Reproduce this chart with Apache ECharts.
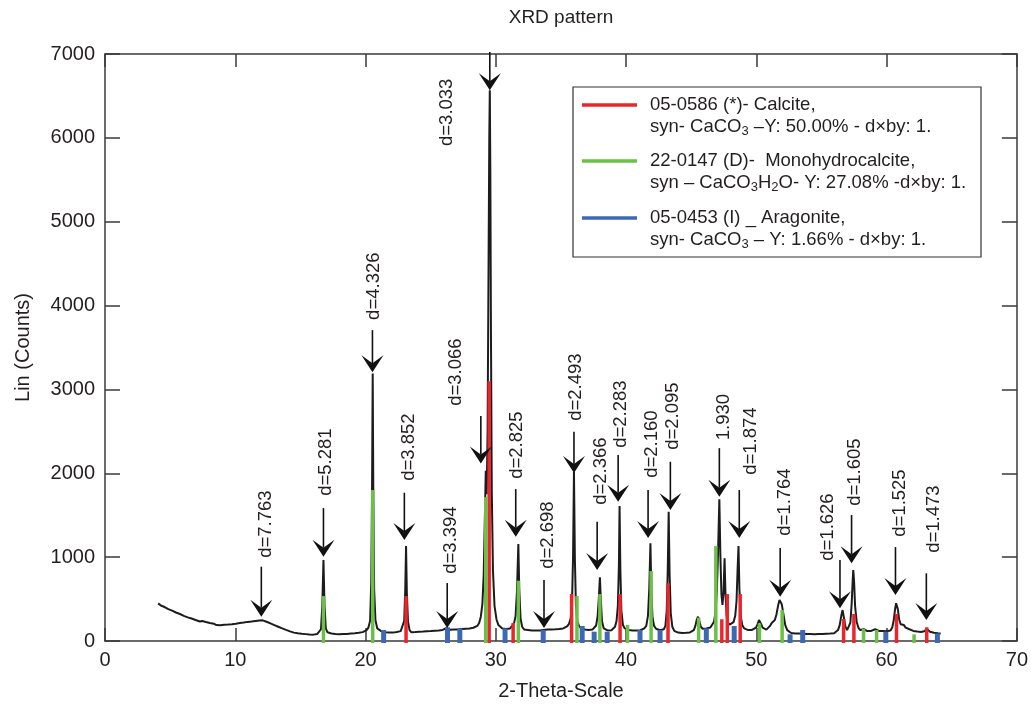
<!DOCTYPE html>
<html><head><meta charset="utf-8">
<script src="https://cdn.jsdelivr.net/npm/echarts@6/dist/echarts.min.js"></script>
<style>html,body{margin:0;padding:0;background:#fff}#c{width:1031px;height:706px}</style>
</head><body><div id="c"></div>
<script>
// ---------- data ----------
const profile = [[4.08,449],[4.2,441],[4.32,420],[4.45,428],[4.58,405],[4.72,398],[4.86,380],[5.0,383],[5.15,362],[5.3,352],[5.45,340],[5.6,331],[5.75,322],[5.9,318],[6.05,300],[6.2,296],[6.35,282],[6.5,285],[6.65,268],[6.8,262],[6.95,250],[7.1,252],[7.28,232],[7.45,238],[7.6,222],[7.75,226],[7.9,210],[8.05,215],[8.2,198],[8.35,206],[8.55,190],[8.7,200],[8.85,188],[9.0,201],[9.15,194],[9.3,207],[9.45,196],[9.6,210],[9.75,200],[9.9,214],[10.05,206],[10.2,222],[10.35,214],[10.5,230],[10.65,220],[10.8,236],[10.95,228],[11.1,242],[11.25,232],[11.4,248],[11.55,238],[11.7,252],[11.85,244],[12.0,256],[12.1,246],[12.25,238],[12.4,230],[12.55,218],[12.7,210],[12.85,196],[13.0,190],[13.15,176],[13.3,170],[13.45,156],[13.6,150],[13.75,138],[13.9,132],[14.05,118],[14.2,115],[14.35,102],[14.5,100],[14.65,88],[14.8,92],[14.95,80],[15.1,86],[15.25,74],[15.4,82],[15.55,70],[15.7,78],[15.85,68],[16.0,76],[16.15,72],[16.3,84],[16.45,95],[16.58,140],[16.68,420],[16.77,965],[16.85,430],[16.95,150],[17.08,104],[17.23,96],[17.38,90],[17.53,98],[17.68,84],[17.83,92],[17.98,80],[18.13,90],[18.28,82],[18.43,94],[18.58,84],[18.73,95],[18.88,88],[19.03,99],[19.18,92],[19.33,104],[19.48,98],[19.63,110],[19.78,106],[19.93,120],[20.08,130],[20.22,160],[20.35,240],[20.44,700],[20.5,1800],[20.55,3190],[20.6,1700],[20.66,620],[20.76,250],[20.9,150],[21.05,128],[21.2,118],[21.35,108],[21.5,104],[21.65,96],[21.8,102],[21.95,92],[22.1,100],[22.25,98],[22.4,108],[22.55,104],[22.7,118],[22.85,140],[22.97,240],[23.05,620],[23.11,1132],[23.17,580],[23.26,230],[23.38,130],[23.52,104],[23.67,96],[23.82,106],[23.97,100],[24.12,110],[24.27,102],[24.42,112],[24.57,104],[24.72,116],[24.87,108],[25.02,118],[25.17,110],[25.32,122],[25.47,114],[25.62,126],[25.77,120],[25.92,132],[26.07,140],[26.2,152],[26.33,146],[26.48,134],[26.63,128],[26.78,136],[26.93,126],[27.08,138],[27.23,132],[27.38,142],[27.53,134],[27.68,146],[27.83,140],[27.98,150],[28.13,146],[28.28,158],[28.43,165],[28.58,180],[28.72,215],[28.85,290],[28.97,440],[29.07,780],[29.15,1400],[29.23,2030],[29.3,1750],[29.37,2500],[29.44,4400],[29.5,6000],[29.54,6567],[29.58,5600],[29.63,3600],[29.69,1800],[29.78,850],[29.9,420],[30.05,260],[30.2,190],[30.35,168],[30.5,150],[30.65,158],[30.8,144],[30.95,154],[31.1,150],[31.25,168],[31.4,210],[31.52,300],[31.62,580],[31.73,1156],[31.8,620],[31.9,270],[32.02,170],[32.17,138],[32.32,128],[32.47,132],[32.62,118],[32.77,126],[32.92,114],[33.07,124],[33.22,116],[33.37,126],[33.52,118],[33.67,132],[33.82,124],[33.97,136],[34.12,126],[34.27,138],[34.42,128],[34.57,140],[34.72,132],[34.87,144],[35.02,138],[35.17,150],[35.32,156],[35.47,175],[35.62,205],[35.75,270],[35.85,460],[35.93,1000],[36.0,2018],[36.07,980],[36.15,420],[36.25,240],[36.38,180],[36.52,156],[36.67,148],[36.82,138],[36.97,144],[37.12,132],[37.27,140],[37.42,136],[37.57,150],[37.7,185],[37.82,300],[37.92,540],[37.99,759],[38.06,500],[38.15,240],[38.28,152],[38.43,132],[38.58,126],[38.73,134],[38.88,128],[39.03,142],[39.15,170],[39.27,240],[39.37,420],[39.45,900],[39.5,1609],[39.56,860],[39.64,360],[39.76,190],[39.9,150],[40.05,140],[40.2,132],[40.35,138],[40.5,126],[40.65,134],[40.8,124],[40.95,134],[41.1,128],[41.25,140],[41.4,150],[41.55,180],[41.68,300],[41.78,620],[41.87,1165],[41.94,600],[42.03,280],[42.15,180],[42.3,146],[42.45,136],[42.6,128],[42.75,134],[42.9,140],[43.02,180],[43.12,360],[43.2,850],[43.27,1541],[43.34,800],[43.43,330],[43.55,170],[43.7,120],[43.85,108],[44.0,100],[44.15,104],[44.3,96],[44.45,102],[44.6,98],[44.75,106],[44.9,102],[45.05,112],[45.2,130],[45.32,180],[45.42,250],[45.52,290],[45.62,240],[45.74,170],[45.88,146],[46.02,140],[46.17,150],[46.32,146],[46.47,160],[46.62,180],[46.75,230],[46.87,340],[46.97,600],[47.06,1050],[47.16,1689],[47.24,1020],[47.32,560],[47.4,430],[47.48,580],[47.56,986],[47.63,560],[47.72,300],[47.82,220],[47.95,195],[48.1,200],[48.25,225],[48.38,300],[48.48,480],[48.56,850],[48.63,1132],[48.7,620],[48.8,300],[48.92,190],[49.07,150],[49.22,136],[49.37,130],[49.52,138],[49.67,132],[49.82,144],[49.97,160],[50.1,200],[50.2,250],[50.26,259],[50.35,210],[50.48,160],[50.62,140],[50.77,136],[50.92,150],[51.05,180],[51.18,215],[51.3,225],[51.42,250],[51.55,320],[51.68,430],[51.78,490],[51.85,497],[51.95,440],[52.08,320],[52.22,190],[52.37,130],[52.52,108],[52.67,96],[52.82,100],[52.97,90],[53.12,96],[53.27,88],[53.42,94],[53.57,86],[53.72,92],[53.87,84],[54.02,90],[54.17,82],[54.32,88],[54.47,80],[54.62,88],[54.77,82],[54.92,90],[55.07,84],[55.22,92],[55.37,86],[55.52,94],[55.67,88],[55.82,96],[55.97,92],[56.12,104],[56.27,130],[56.4,190],[56.52,300],[56.62,369],[56.72,280],[56.84,170],[56.97,130],[57.1,140],[57.22,220],[57.32,450],[57.39,700],[57.44,846],[57.5,720],[57.58,420],[57.7,230],[57.83,160],[57.97,130],[58.12,126],[58.25,140],[58.38,130],[58.52,118],[58.67,112],[58.82,120],[58.97,128],[59.12,140],[59.25,136],[59.4,120],[59.55,112],[59.7,118],[59.85,110],[60.0,116],[60.15,112],[60.3,124],[60.43,160],[60.55,250],[60.65,380],[60.73,450],[60.78,457],[60.86,380],[60.96,260],[61.08,200],[61.2,180],[61.33,190],[61.46,160],[61.6,150],[61.75,140],[61.9,132],[62.05,120],[62.2,124],[62.35,112],[62.5,118],[62.65,108],[62.8,114],[62.95,120],[63.05,150],[63.12,165],[63.2,130],[63.33,110],[63.48,104],[63.63,98],[63.78,102],[63.93,92],[64.08,96],[64.15,90]];

const calciteSticks = [[23.11,536],[29.49,3099],[31.33,215],[35.82,560],[39.54,560],[43.22,688],[47.35,259],[47.77,560],[48.76,560],[56.7,262],[57.49,322],[60.76,322],[63.08,163]];
const monohydroSticks = [[16.77,536],[20.55,1800],[29.23,1716],[31.73,719],[36.23,536],[37.99,560],[40.11,191],[41.92,834],[45.57,278],[46.89,1132],[50.24,211],[51.98,369],[58.23,143],[59.23,131],[62.11,79]];
const aragoniteSticks = [[21.39,131],[26.29,163],[27.24,151],[30.71,151],[33.64,131],[36.63,179],[37.55,111],[38.55,111],[41.07,131],[42.61,131],[46.16,151],[48.3,179],[52.59,80],[53.56,131],[59.94,111],[63.9,91]];

// arrow annotations in data units: [2theta, tip counts, top counts, label 2theta, label counts]
const arrowMarks = [[12.0,290,886,12.33,1394],[16.77,1005,1585,16.93,2133],[20.53,3206,3707,20.68,4231],[22.98,1204,1768,23.36,2312],[26.27,155,691,26.58,1204],[28.85,2118,2682,26.96,3206],[29.54,6567,7024,26.27,6305],[31.53,1243,1812,31.63,2336],[33.7,155,727,34.0,1263],[36.0,2002,2495,36.15,3027],[37.78,846,1422,38.04,2026],[39.39,1660,2217,39.6,2706],[41.69,1228,1800,41.97,2348],[43.4,1561,2137,43.58,2682],[47.16,1720,2300,47.48,2670],[48.69,1228,1800,49.6,2384],[51.83,528,1108,52.16,1657],[56.42,390,965,55.52,1359],[57.31,926,1502,57.57,2014],[60.68,548,1120,61.02,1645],[63.05,250,807,63.64,1454]];
const arrowLabels = ['d=7.763','d=5.281','d=4.326','d=3.852','d=3.394','d=3.066','d=3.033','d=2.825','d=2.698','d=2.493','d=2.366','d=2.283','d=2.160','d=2.095','1.930','d=1.874','d=1.764','d=1.626','d=1.605','d=1.525','d=1.473'];

const legendTitles = ['05-0586 (*)- Calcite,', '22-0147 (D)-  Monohydrocalcite,', '05-0453 (I) _ Aragonite,'];
const legendDetails = ['syn- CaCO{s|3} \u2013Y: 50.00% - d\u00d7by: 1.', 'syn \u2013 CaCO{s|3}H{s|2}O- Y: 27.08% -d\u00d7by: 1.', 'syn- CaCO{s|3} \u2013 Y: 1.66% - d\u00d7by: 1.'];
const xTickLabels = ['0','10','20','30','40','50','60','70'];
const yTickLabels = ['0','1000','2000','3000','4000','5000','6000','7000'];

// ---------- chart ----------
const FONT = '"Liberation Sans", Arial, Helvetica, sans-serif';
const TXT = '#231f20';
const RED = '#e8262b', GREEN = '#6cbf47', BLUE = '#3d68b4';

function stickRenderer(color, w) {
  return function (params, api) {
    const p0 = api.coord([api.value(0), 0]);
    const p1 = api.coord([api.value(0), api.value(1)]);
    return { type: 'rect', shape: { x: p0[0] - w / 2, y: p1[1], width: w, height: p0[1] - p1[1] + 2 }, style: { fill: color } };
  };
}
function arrowRenderer(params, api) {
  const x = api.value(0);
  const pTip = api.coord([x, api.value(1)]);
  const pTop = api.coord([x, api.value(2)]);
  const pL = api.coord([api.value(3), api.value(4)]);
  const hw = 11, hl = 17, notch = 8;
  return { type: 'group', children: [
    { type: 'line', shape: { x1: pTop[0], y1: pTop[1], x2: pTip[0], y2: pTip[1] - hl + notch }, style: { stroke: '#111', lineWidth: 1.6 } },
    { type: 'polygon', shape: { points: [[pTip[0], pTip[1]], [pTip[0] - hw, pTip[1] - hl], [pTip[0], pTip[1] - hl + notch], [pTip[0] + hw, pTip[1] - hl]] }, style: { fill: '#111' } },
    { type: 'text', x: pL[0], y: pL[1], rotation: Math.PI / 2, style: { text: arrowLabels[params.dataIndex], align: 'center', verticalAlign: 'middle', fontSize: 18.5, fontFamily: FONT, fill: TXT } }
  ] };
}

const axisLineStyle = { color: '#3a3a3a', width: 1.5 };
const mkX = (pos, showLabel) => ({
  type: 'value', min: 0, max: 70, interval: 10, position: pos,
  axisLine: { show: true, onZero: false, lineStyle: axisLineStyle },
  axisTick: { show: true, inside: true, length: 13, lineStyle: axisLineStyle },
  axisLabel: { show: showLabel, fontSize: 20, color: TXT, fontFamily: FONT, margin: 9, formatter: (v) => xTickLabels[Math.round(v / 10)] },
  splitLine: { show: false }
});
const mkY = (pos, showLabel) => ({
  type: 'value', min: 0, max: 7000, interval: 1000, position: pos,
  axisLine: { show: true, onZero: false, lineStyle: axisLineStyle },
  axisTick: { show: true, inside: true, length: 15, lineStyle: axisLineStyle },
  axisLabel: { show: showLabel, fontSize: 20, color: TXT, fontFamily: FONT, margin: 10, formatter: (v) => yTickLabels[Math.round(v / 1000)] },
  splitLine: { show: false }
});

const xBottom = Object.assign(mkX('bottom', true), { name: '2-Theta-Scale', nameLocation: 'middle', nameGap: 40, nameTextStyle: { fontSize: 20, color: TXT, fontFamily: FONT } });
const yLeft = Object.assign(mkY('left', true), { name: 'Lin (Counts)', nameLocation: 'middle', nameGap: 72, nameTextStyle: { fontSize: 20, color: TXT, fontFamily: FONT } });

const legendColors = [RED, GREEN, BLUE];
const legendRowY = [105, 161, 218];
const legendGraphics = [{ type: 'rect', x: 573, y: 87, shape: { width: 408, height: 170 }, style: { fill: '#fff', stroke: '#333', lineWidth: 1.2 }, z: 10 }];
legendColors.forEach((c, i) => {
  legendGraphics.push({ type: 'line', shape: { x1: 582, y1: legendRowY[i], x2: 637, y2: legendRowY[i] }, style: { stroke: c, lineWidth: 3.5 }, z: 11 });
  legendGraphics.push({ type: 'text', x: 650, y: legendRowY[i] - 11, z: 11, style: {
    text: legendTitles[i] + '\n' + legendDetails[i], fontSize: 18.5, lineHeight: 22, fontFamily: FONT, fill: TXT, verticalAlign: 'top',
    rich: { s: { fontSize: 13, lineHeight: 10, verticalAlign: 'bottom', fontFamily: FONT, fill: TXT } } } });
});
legendGraphics.push({ type: 'text', x: 561, y: 18, style: { text: 'XRD pattern', align: 'center', verticalAlign: 'middle', fontSize: 19, fontFamily: FONT, fill: TXT } });

const option = {
  animation: false,
  backgroundColor: '#fff',
  grid: { left: 105, right: 12, top: 54, bottom: 65, containLabel: false },
  xAxis: [xBottom, mkX('top', false)],
  yAxis: [yLeft, mkY('right', false)],
  series: [
    { type: 'line', xAxisIndex: 0, yAxisIndex: 0, data: profile, showSymbol: false, symbol: 'none', lineStyle: { color: '#1c1c1c', width: 2 }, z: 2 },
    { type: 'custom', name: 'Calcite', renderItem: stickRenderer(RED, 3.5), data: calciteSticks, encode: { x: 0, y: 1 }, z: 3 },
    { type: 'custom', name: 'Monohydrocalcite', renderItem: stickRenderer(GREEN, 3.5), data: monohydroSticks, encode: { x: 0, y: 1 }, z: 3 },
    { type: 'custom', name: 'Aragonite', renderItem: stickRenderer(BLUE, 5), data: aragoniteSticks, encode: { x: 0, y: 1 }, z: 3 },
    { type: 'custom', name: 'arrows', renderItem: arrowRenderer, data: arrowMarks, encode: { x: [0, 3], y: [1, 2, 4] }, clip: false, z: 4 }
  ],
  graphic: legendGraphics
};
const chart = echarts.init(document.getElementById('c'), null, { renderer: 'canvas' });
chart.setOption(option);
</script></body></html>
